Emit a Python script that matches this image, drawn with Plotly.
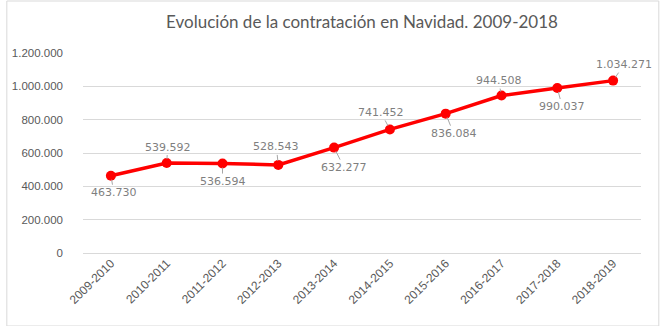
import plotly.graph_objects as go

categories = ["2009-2010", "2010-2011", "2011-2012", "2012-2013", "2013-2014",
              "2014-2015", "2015-2016", "2016-2017", "2017-2018", "2018-2019"]
values = [463730, 539592, 536594, 528543, 632277, 741452, 836084, 944508, 990037, 1034271]
label_texts = ["463.730", "539.592", "536.594", "528.543", "632.277",
               "741.452", "836.084", "944.508", "990.037", "1.034.271"]
# label offsets (pixels) relative to each point
label_dx = [3, 1, 0, -2, 10, -9, 8, -3, 5, 11]
label_dy = [17, -16, 18, -18, 20, -17, 20, -15, 19, -16]
y_ticks = [0, 200000, 400000, 600000, 800000, 1000000, 1200000]

fig = go.Figure()
fig.add_trace(go.Scatter(
    x=categories, y=values, mode="lines+markers",
    line=dict(color="#ff0000", width=3.5),
    marker=dict(color="#ff0000", size=10),
    hoverinfo="skip", showlegend=False,
))

for c, v, t, dx, dy in zip(categories, values, label_texts, label_dx, label_dy):
    fig.add_annotation(
        x=c, y=v, text=t, showarrow=True, ax=dx, ay=dy,
        arrowhead=0, arrowwidth=1, arrowcolor="#a6a6a6", standoff=4,
        font=dict(family="DejaVu Sans", size=11, color="#7f7f7f"),
    )

fig.add_shape(type="rect", xref="paper", yref="paper",
              x0=-77/564, x1=(659 - 77) / 564, y0=-73/200, y1=(325 - 73) / 200 + 0.0,
              line=dict(color="#d9d9d9", width=1), layer="below")

fig.update_layout(
    width=660, height=326,
    margin=dict(l=77, r=19, t=53, b=73),
    paper_bgcolor="white", plot_bgcolor="white",
    separators=",.",
    title=dict(text="Evolución de la contratación en Navidad. 2009-2018",
               x=0.5, xref="paper", xanchor="center", y=1 - 22/326, yanchor="middle",
               font=dict(family="Lato", size=17, color="#595959")),
    xaxis=dict(type="category", showgrid=False, showline=False, zeroline=False,
               tickangle=-45, ticks="", range=[-0.5, 9.5],
               tickfont=dict(family="Liberation Sans", size=12, color="#595959")),
    yaxis=dict(range=[0, 1200000], tickvals=y_ticks, tickformat=",d",
               showgrid=True, gridcolor="#d9d9d9", gridwidth=1,
               zeroline=True, zerolinecolor="#d9d9d9", zerolinewidth=1,
               showline=False, ticks="", ticklabelstandoff=19,
               tickfont=dict(family="Liberation Sans", size=11.5, color="#595959")),
)

fig.write_html("out.html")
